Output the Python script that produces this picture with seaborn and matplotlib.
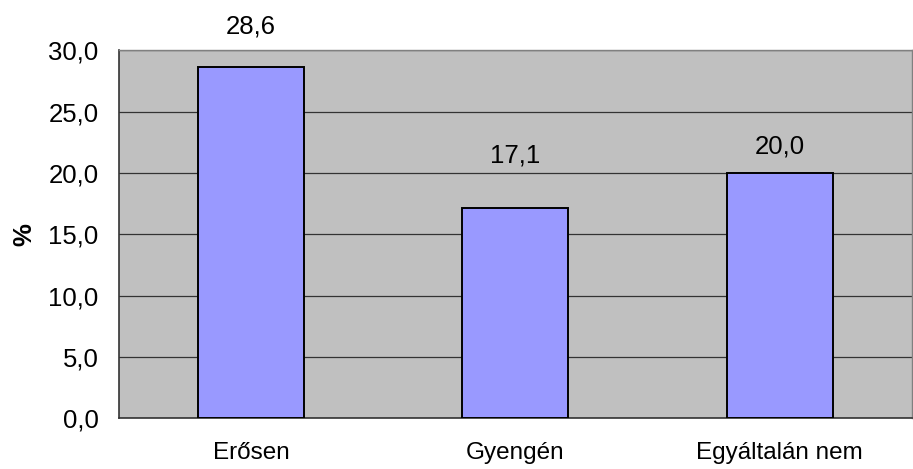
import matplotlib
matplotlib.use("Agg")
import matplotlib.pyplot as plt
import seaborn as sns
import pandas as pd

# Chart data
categories = ["Erősen", "Gyengén", "Egyáltalán nem"]
values = [28.6, 17.1, 20.0]
y_ticks = [0, 5, 10, 15, 20, 25, 30]

# vertical gap (points) between bar top and label baseline, as placed in the original
label_gaps = [24.5, 33, 13.7]

df = pd.DataFrame({"cat": categories, "val": values})

sns.set_style("white")
plt.rcParams["font.family"] = ["Liberation Sans", "DejaVu Sans"]
plt.rcParams["text.color"] = "black"
plt.rcParams["xtick.labelcolor"] = "black"
plt.rcParams["ytick.labelcolor"] = "black"
plt.rcParams["axes.labelcolor"] = "black"
fs = 18.5

fig, ax = plt.subplots(figsize=(9.13, 4.69), dpi=100)
fig.subplots_adjust(left=0.130, right=0.999, top=0.893, bottom=0.108)

sns.barplot(data=df, x="cat", y="val", color="#9999FF", width=0.4,
            edgecolor="black", linewidth=1.4, saturation=1, ax=ax, zorder=3)

ax.set_facecolor("#C0C0C0")
ax.set_ylim(0, 30)
ax.set_xlim(-0.5, len(categories) - 0.5)
ax.set_yticks(y_ticks)
ax.set_yticklabels([f"{t:.1f}".replace(".", ",") for t in y_ticks], fontsize=fs)
ax.yaxis.grid(True, color="#333333", linewidth=0.9, zorder=0)
ax.set_axisbelow(True)

# category ticks between bars, labels centered
ax.set_xticks(range(len(categories)))
ax.set_xticklabels(categories, fontsize=17.5)
ax.tick_params(axis="x", length=0, pad=17)
ax.set_xticks([i - 0.5 for i in range(len(categories) + 1)], minor=True)
ax.tick_params(axis="x", which="minor", length=6, color="#333333", width=1)
ax.tick_params(axis="y", length=5.8, color="#333333", width=1, pad=8.6)

for side in ["left", "bottom"]:
    ax.spines[side].set_color("#333333")
    ax.spines[side].set_linewidth(1.2)
for side in ["top", "right"]:
    ax.spines[side].set_color("#808080")
    ax.spines[side].set_linewidth(1.0)

ax.set_xlabel("")
ax.set_ylabel("%", fontsize=fs, fontweight="bold", labelpad=9)

for i, (v, g) in enumerate(zip(values, label_gaps)):
    ax.annotate(f"{v:.1f}".replace(".", ","), (i, v), xytext=(0, g),
                textcoords="offset points", ha="center", va="baseline", fontsize=fs)

plt.savefig("out.png", dpi=100)
